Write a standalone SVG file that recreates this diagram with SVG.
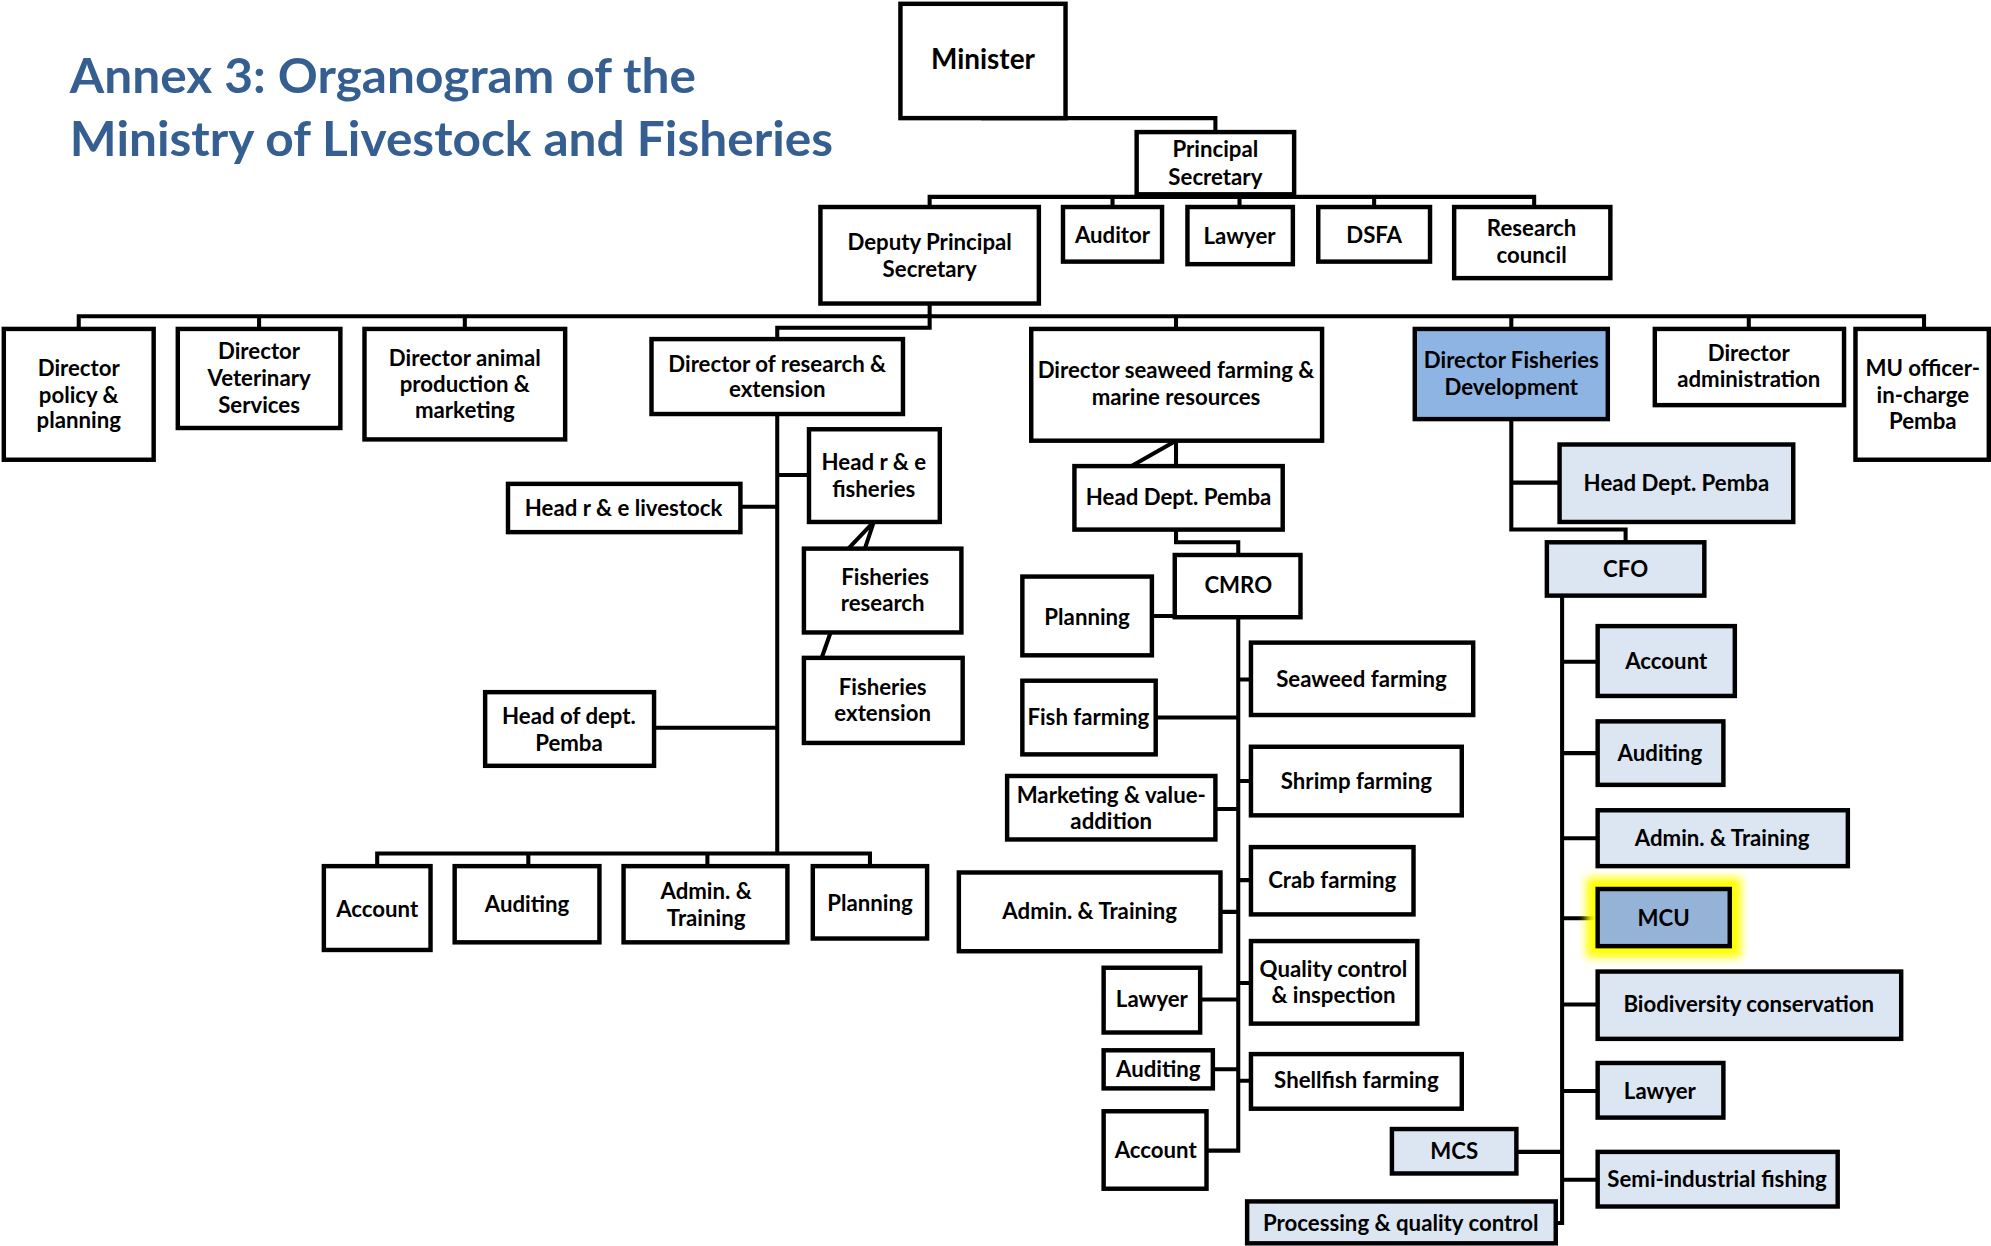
<svg xmlns="http://www.w3.org/2000/svg" width="1991" height="1246" viewBox="0 0 1991 1246">
<defs>
<style>
.box{fill:#fff;stroke:#000;stroke-width:3.5}
.lb{fill:#DCE6F2}
.db{fill:#8EB4E3}
.mcu{fill:#95B3D7}
.t{font-family:Lato,"Open Sans","Liberation Sans",sans-serif;font-weight:700;font-size:17.5px;text-anchor:middle;fill:#000}
.title{font-family:Lato,"Open Sans","Liberation Sans",sans-serif;font-weight:700;font-size:37px;fill:#365F91}
.c{fill:none;stroke:#000;stroke-width:3.2;stroke-linejoin:miter;stroke-linecap:square}
</style>
<filter id="glow" x="-30%" y="-30%" width="160%" height="160%"><feGaussianBlur stdDeviation="3.5"/></filter>
</defs>
<rect x="0" y="0" width="1991" height="1246" fill="#fff"/>
<g transform="scale(1.27)">
<g id="title">
<text class="title" x="55" y="73" textLength="493" lengthAdjust="spacingAndGlyphs">Annex 3: Organogram of the</text>
<text class="title" x="55" y="123" textLength="601" lengthAdjust="spacingAndGlyphs">Ministry of Livestock and Fisheries</text>
</g>
<g id="connectors">
<path class="c" d="M774,93 H957 V104"/>
<path class="c" d="M732,163 V155 H1208 V163 M876,155 V163 M976,155 V163 M1082,155 V163"/>
<path class="c" d="M732,239 V249 M62,259 V249 H1515 V259 M204,249 V259 M366,249 V259 M926,249 V259 M1190,249 V259 M1377,249 V259"/>
<path class="c" d="M732,249 V258 H612 V267"/>
<path class="c" d="M612,326 V672 M583,399 H612 M612,374 H637 M515,573 H612 M297,682 V672 H685 V682 M416,672 V682 M557,672 V682"/>
<path class="c" d="M688,411 L668,432 M688,411 L681,432 M654,498 L647,518"/>
<path class="c" d="M926,347 V367 M926,347 L891,367 M926,417 V427 H975 V437 M975,486 V906 M907,485 H925 M975,535 H985 M910,565 H975 M975,615 H985 M957,637 H975 M975,693 H985 M961,718 H975 M975,774 H985 M945,787 H975 M955,842 H975 M975,851 H985 M950,906 H975"/>
<path class="c" d="M1190,330 V417 H1280 V427 M1190,380 H1228 M1230,469 V963 H1225 M1230,521 H1258 M1230,593 H1258 M1230,660 H1258 M1230,723 H1258 M1230,791 H1258 M1230,859 H1258 M1230,929 H1258 M1194,907 H1230"/>
</g>
<g id="n-minister"><rect class="box" x="709" y="3" width="130" height="90"/><text class="t" x="774" y="54" style="font-size:22px">Minister</text></g>
<g id="n-ps"><rect class="box" x="895" y="104" width="124" height="49"/><text class="t" x="957" y="124">Principal</text><text class="t" x="957" y="146">Secretary</text></g>
<g id="n-dps"><rect class="box" x="646" y="163" width="172" height="76"/><text class="t" x="732" y="197">Deputy Principal</text><text class="t" x="732" y="218">Secretary</text></g>
<g id="n-auditor"><rect class="box" x="837" y="163" width="78" height="43"/><text class="t" x="876" y="191">Auditor</text></g>
<g id="n-lawyer"><rect class="box" x="935" y="163" width="83" height="45"/><text class="t" x="976" y="192">Lawyer</text></g>
<g id="n-dsfa"><rect class="box" x="1038" y="163" width="88" height="43"/><text class="t" x="1082" y="191">DSFA</text></g>
<g id="n-rc"><rect class="box" x="1145" y="163" width="123" height="56"/><text class="t" x="1206" y="186">Research</text><text class="t" x="1206" y="207">council</text></g>
<g id="n-dpp"><rect class="box" x="3" y="259" width="118" height="103"/><text class="t" x="62" y="296">Director</text><text class="t" x="62" y="317">policy &amp;</text><text class="t" x="62" y="337">planning</text></g>
<g id="n-dvs"><rect class="box" x="140" y="259" width="128" height="78"/><text class="t" x="204" y="283">Director</text><text class="t" x="204" y="304">Veterinary</text><text class="t" x="204" y="325">Services</text></g>
<g id="n-dap"><rect class="box" x="287" y="259" width="158" height="87"/><text class="t" x="366" y="288">Director animal</text><text class="t" x="366" y="309">production &amp;</text><text class="t" x="366" y="329">marketing</text></g>
<g id="n-dre"><rect class="box" x="513" y="267" width="198" height="59"/><text class="t" x="612" y="293">Director of research &amp;</text><text class="t" x="612" y="313">extension</text></g>
<g id="n-dsf"><rect class="box" x="812" y="259" width="229" height="88"/><text class="t" x="926" y="298">Director seaweed farming &amp;</text><text class="t" x="926" y="319">marine resources</text></g>
<g id="n-dfd"><rect class="box db" x="1114" y="259" width="152" height="71"/><text class="t" x="1190" y="290">Director Fisheries</text><text class="t" x="1190" y="311">Development</text></g>
<g id="n-dad"><rect class="box" x="1303" y="259" width="149" height="60"/><text class="t" x="1377" y="284">Director</text><text class="t" x="1377" y="305">administration</text></g>
<g id="n-mu"><rect class="box" x="1461" y="259" width="105" height="103"/><text class="t" x="1514" y="296">MU officer-</text><text class="t" x="1514" y="317">in-charge</text><text class="t" x="1514" y="338">Pemba</text></g>
<g id="n-hrf"><rect class="box" x="637" y="338" width="103" height="73"/><text class="t" x="688" y="370">Head r &amp; e</text><text class="t" x="688" y="391">fisheries</text></g>
<g id="n-hrl"><rect class="box" x="400" y="381" width="183" height="38"/><text class="t" x="491" y="406">Head r &amp; e livestock</text></g>
<g id="n-fr"><rect class="box" x="633" y="432" width="124" height="66"/><text class="t" x="697" y="461">Fisheries</text><text class="t" x="695" y="481">research</text></g>
<g id="n-fe"><rect class="box" x="633" y="518" width="125" height="67"/><text class="t" x="695" y="547">Fisheries</text><text class="t" x="695" y="568">extension</text></g>
<g id="n-hdp"><rect class="box" x="382" y="545" width="133" height="58"/><text class="t" x="448" y="570">Head of dept.</text><text class="t" x="448" y="591">Pemba</text></g>
<g id="n-acc1"><rect class="box" x="255" y="682" width="84" height="66"/><text class="t" x="297" y="722">Account</text></g>
<g id="n-aud1"><rect class="box" x="358" y="682" width="114" height="60"/><text class="t" x="415" y="718">Auditing</text></g>
<g id="n-adm1"><rect class="box" x="491" y="682" width="129" height="60"/><text class="t" x="556" y="708">Admin. &amp;</text><text class="t" x="556" y="729">Training</text></g>
<g id="n-pla1"><rect class="box" x="640" y="682" width="90" height="57"/><text class="t" x="685" y="717">Planning</text></g>
<g id="n-hdp2"><rect class="box" x="846" y="367" width="164" height="50"/><text class="t" x="928" y="398">Head Dept. Pemba</text></g>
<g id="n-cmro"><rect class="box" x="925" y="437" width="99" height="49"/><text class="t" x="975" y="467">CMRO</text></g>
<g id="n-pla2"><rect class="box" x="805" y="454" width="102" height="62"/><text class="t" x="856" y="492">Planning</text></g>
<g id="n-swf"><rect class="box" x="985" y="506" width="175" height="57"/><text class="t" x="1072" y="541">Seaweed farming</text></g>
<g id="n-fif"><rect class="box" x="805" y="536" width="105" height="58"/><text class="t" x="857" y="571">Fish farming</text></g>
<g id="n-shf"><rect class="box" x="985" y="588" width="166" height="54"/><text class="t" x="1068" y="621">Shrimp farming</text></g>
<g id="n-mva"><rect class="box" x="793" y="611" width="164" height="50"/><text class="t" x="875" y="632">Marketing &amp; value-</text><text class="t" x="875" y="653">addition</text></g>
<g id="n-crf"><rect class="box" x="985" y="667" width="128" height="53"/><text class="t" x="1049" y="699">Crab farming</text></g>
<g id="n-adm2"><rect class="box" x="755" y="687" width="206" height="62"/><text class="t" x="858" y="724">Admin. &amp; Training</text></g>
<g id="n-qci"><rect class="box" x="985" y="741" width="131" height="65"/><text class="t" x="1050" y="769">Quality control</text><text class="t" x="1050" y="790">&amp; inspection</text></g>
<g id="n-law2"><rect class="box" x="869" y="762" width="76" height="51"/><text class="t" x="907" y="793">Lawyer</text></g>
<g id="n-aud2"><rect class="box" x="869" y="827" width="86" height="30"/><text class="t" x="912" y="848">Auditing</text></g>
<g id="n-slf"><rect class="box" x="985" y="830" width="166" height="43"/><text class="t" x="1068" y="857">Shellfish farming</text></g>
<g id="n-acc2"><rect class="box" x="869" y="875" width="81" height="61"/><text class="t" x="910" y="912">Account</text></g>
<g id="n-hdp3"><rect class="box lb" x="1228" y="350" width="184" height="61"/><text class="t" x="1320" y="387">Head Dept. Pemba</text></g>
<g id="n-cfo"><rect class="box lb" x="1218" y="427" width="124" height="42"/><text class="t" x="1280" y="454">CFO</text></g>
<g id="n-acc3"><rect class="box lb" x="1258" y="493" width="108" height="55"/><text class="t" x="1312" y="527">Account</text></g>
<g id="n-aud3"><rect class="box lb" x="1258" y="568" width="99" height="50"/><text class="t" x="1307" y="599">Auditing</text></g>
<g id="n-adm3"><rect class="box lb" x="1258" y="638" width="197" height="44"/><text class="t" x="1356" y="666">Admin. &amp; Training</text></g>
<g id="n-mcu"><rect x="1249" y="691" width="122" height="63" fill="#FFFF00" filter="url(#glow)"/><rect class="box mcu" x="1258" y="700" width="104" height="45"/><text class="t" x="1310" y="729">MCU</text></g>
<g id="n-bio"><rect class="box lb" x="1258" y="765" width="239" height="53"/><text class="t" x="1377" y="797">Biodiversity conservation</text></g>
<g id="n-law3"><rect class="box lb" x="1258" y="837" width="99" height="43"/><text class="t" x="1307" y="865">Lawyer</text></g>
<g id="n-sif"><rect class="box lb" x="1258" y="907" width="189" height="43"/><text class="t" x="1352" y="935">Semi-industrial fishing</text></g>
<g id="n-mcs"><rect class="box lb" x="1096" y="889" width="98" height="35"/><text class="t" x="1145" y="913">MCS</text></g>
<g id="n-pqc"><rect class="box lb" x="982" y="946" width="243" height="33"/><text class="t" x="1103" y="969">Processing &amp; quality control</text></g>
</g>
</svg>
